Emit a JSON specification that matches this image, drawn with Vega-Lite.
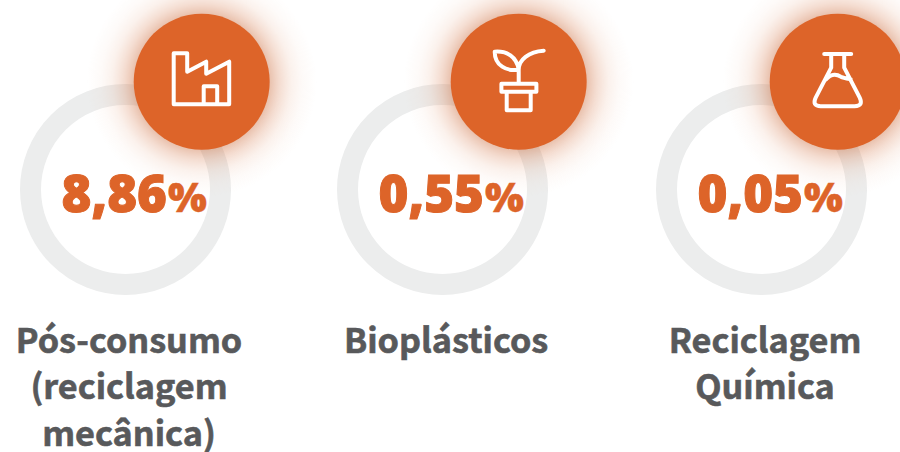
{"$schema":"https://vega.github.io/schema/vega-lite/v6.json","width":900,"height":452,"padding":0,"autosize":{"type":"none"},"background":"#ffffff","view":{"stroke":null},"data":{"values":[{"ordem":1,"categoria":"Pós-consumo (reciclagem mecânica)","valor":"8,86","unidade":"%","rotulo":"Pós-consumo\n(reciclagem\nmecânica)"},{"ordem":2,"categoria":"Bioplásticos","valor":"0,55","unidade":"%","rotulo":"Bioplásticos"},{"ordem":3,"categoria":"Reciclagem Química","valor":"0,05","unidade":"%","rotulo":"Reciclagem\nQuímica"}]},"encoding":{"x":{"field":"ordem","type":"quantitative","axis":null,"scale":{"domain":[1,2,3],"range":[125.5,442.5,761.5]}}},"layer":[{"mark":{"type":"point","filled":false,"stroke":"#ECEDED","strokeWidth":21,"size":36100,"opacity":1},"encoding":{"y":{"datum":"anel","type":"ordinal","axis":null,"scale":{"type":"point","domain":["icone","anel","rotulo"],"range":[81.7,297.3],"padding":0}}}},{"mark":{"type":"point","filled":true,"xOffset":76.2,"size":52900,"opacity":1,"fill":{"gradient":"radial","stops":[{"offset":0,"color":"rgba(200,100,50,0.4)"},{"offset":0.59,"color":"rgba(200,100,50,0.4)"},{"offset":0.68,"color":"rgba(215,125,80,0.26)"},{"offset":0.78,"color":"rgba(225,150,110,0.13)"},{"offset":0.88,"color":"rgba(230,165,130,0.05)"},{"offset":1,"color":"rgba(230,170,130,0)"}]}},"encoding":{"y":{"datum":"icone","type":"ordinal"}}},{"mark":{"type":"point","filled":true,"color":"#DD6429","xOffset":76.2,"size":18496,"opacity":1},"encoding":{"y":{"datum":"icone","type":"ordinal"}}},{"mark":{"type":"point","filled":false,"stroke":"#ffffff","strokeWidth":4,"strokeCap":"round","strokeJoin":"round","xOffset":76.2,"size":4,"opacity":1},"encoding":{"y":{"datum":"icone","type":"ordinal"},"shape":{"field":"categoria","type":"nominal","legend":null,"scale":{"domain":["Pós-consumo (reciclagem mecânica)","Bioplásticos","Reciclagem Química"],"range":["M-28,-28.5L-14.5,-28.5L-14.5,-10L4.5,-20L4.5,-8L27.5,-20L27.5,22.5L-28,22.5ZM2,22.5L2,4.5L15.5,4.5L15.5,22.5","M-24,-30C-12,-31 -2,-25 0,-12C-12,-10 -24,-16 -24,-30ZM0,2L0,-12C0,-22 10,-30 25,-31M-17.3,2L17.7,2L17.7,10L-17.3,10ZM-12,10L-12,28.5L12,28.5L12,10","M-13.5,-27.7L13.5,-27.7M-6.5,-27L-6.5,-14L-22,16Q-26,24.5 -17,24.5L17,24.5Q26,24.5 22,16L6.5,-14L6.5,-27M-12,-2C-6,-9 0,-7 3,-5C6,-3.5 10,-3 13,-2.5"]}}}},{"mark":{"type":"text","align":"right","baseline":"alphabetic","dx":41.5,"dy":22.5,"font":"Open Sans","fontWeight":800,"fontSize":51,"fill":"#DD6429","stroke":"#DD6429","strokeWidth":1},"encoding":{"y":{"datum":"anel","type":"ordinal"},"text":{"field":"valor"}}},{"mark":{"type":"text","align":"left","baseline":"alphabetic","dx":42.5,"dy":22.5,"font":"Open Sans","fontWeight":800,"fontSize":41,"fill":"#DD6429","stroke":"#DD6429","strokeWidth":0.5},"encoding":{"y":{"datum":"anel","type":"ordinal"},"text":{"field":"unidade"}}},{"mark":{"type":"text","align":"center","baseline":"alphabetic","dx":3.5,"dy":55.5,"lineBreak":"\n","lineHeight":46.7,"font":"Noto Sans CJK SC","fontWeight":700,"fontSize":34.2,"fill":"#58595B","stroke":"#58595B","strokeWidth":0.6},"encoding":{"y":{"datum":"rotulo","type":"ordinal"},"text":{"field":"rotulo"}}}]}
